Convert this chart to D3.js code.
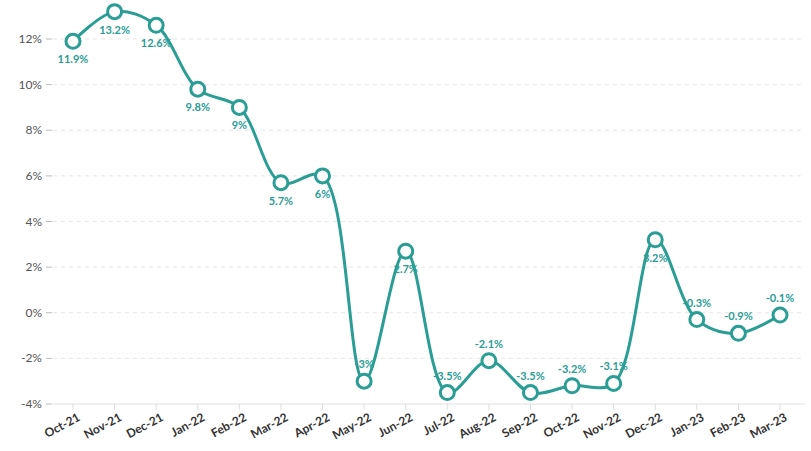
<!DOCTYPE html><html><head><meta charset="utf-8">
<script src="https://cdn.jsdelivr.net/npm/d3@7"></script>
<style>body{margin:0;background:#fff}</style></head><body>
<svg id="c" width="811" height="451"></svg>
<script>
const months=["Oct-21","Nov-21","Dec-21","Jan-22","Feb-22","Mar-22","Apr-22","May-22","Jun-22","Jul-22","Aug-22","Sep-22","Oct-22","Nov-22","Dec-22","Jan-23","Feb-23","Mar-23"];
const values=[11.9,13.2,12.6,9.8,9,5.7,6,-3,2.7,-3.5,-2.1,-3.5,-3.2,-3.1,3.2,-0.3,-0.9,-0.1];
const labelAbove=[false,false,false,false,false,false,false,true,false,true,true,true,true,true,false,true,true,true];
const yTicks=[-4,-2,0,2,4,6,8,10,12,14];
const teal="#2a9d95";
const svg=d3.select("#c");
const x=d3.scalePoint().domain(months).range([73,780]);
const y=d3.scaleLinear().domain([-4,12]).range([404,39]);
const g=svg.append("g");
yTicks.forEach(t=>{
  g.append("line").attr("x1",53).attr("x2",805).attr("y1",y(t)).attr("y2",y(t))
   .attr("stroke",t===-4?"#e0e0e0":"#e6e6e6").attr("stroke-dasharray",t===-4?null:"4,4");
  g.append("line").attr("x1",46).attr("x2",52).attr("y1",y(t)).attr("y2",y(t)).attr("stroke","#bbb");
  g.append("text").attr("x",42).attr("y",y(t)+4).attr("text-anchor","end")
   .attr("font-family","Lato, sans-serif").attr("font-size",12).attr("fill","#555").text(t+"%");
});
months.forEach(m=>{
  g.append("line").attr("x1",x(m)).attr("x2",x(m)).attr("y1",404).attr("y2",410).attr("stroke","#ddd");
  g.append("text").attr("transform",`translate(${x(m)+8},${420}) rotate(-28)`).attr("text-anchor","end")
   .attr("font-family","Lato, sans-serif").attr("font-weight","bold").attr("font-size",12).attr("fill","#333").text(m);
});
const data=months.map((m,i)=>({m,v:values[i],a:labelAbove[i]}));
g.append("path").datum(data).attr("fill","none").attr("stroke",teal).attr("stroke-width",3)
 .attr("d",d3.line().x(d=>x(d.m)).y(d=>y(d.v)).curve(d3.curveCatmullRom.alpha(0.5)));
g.selectAll("circle").data(data).join("circle").attr("cx",d=>x(d.m)).attr("cy",d=>y(d.v)).attr("r",7)
 .attr("fill","#fff").attr("stroke",teal).attr("stroke-width",3);
g.selectAll("text.l").data(data).join("text").attr("class","l").attr("x",d=>x(d.m)).attr("y",d=>y(d.v)+(d.a?-13:22))
 .attr("text-anchor","middle").attr("font-family","Lato, sans-serif").attr("font-weight","bold").attr("font-size",11)
 .attr("fill",teal).text(d=>d.v+"%");
</script></body></html>
